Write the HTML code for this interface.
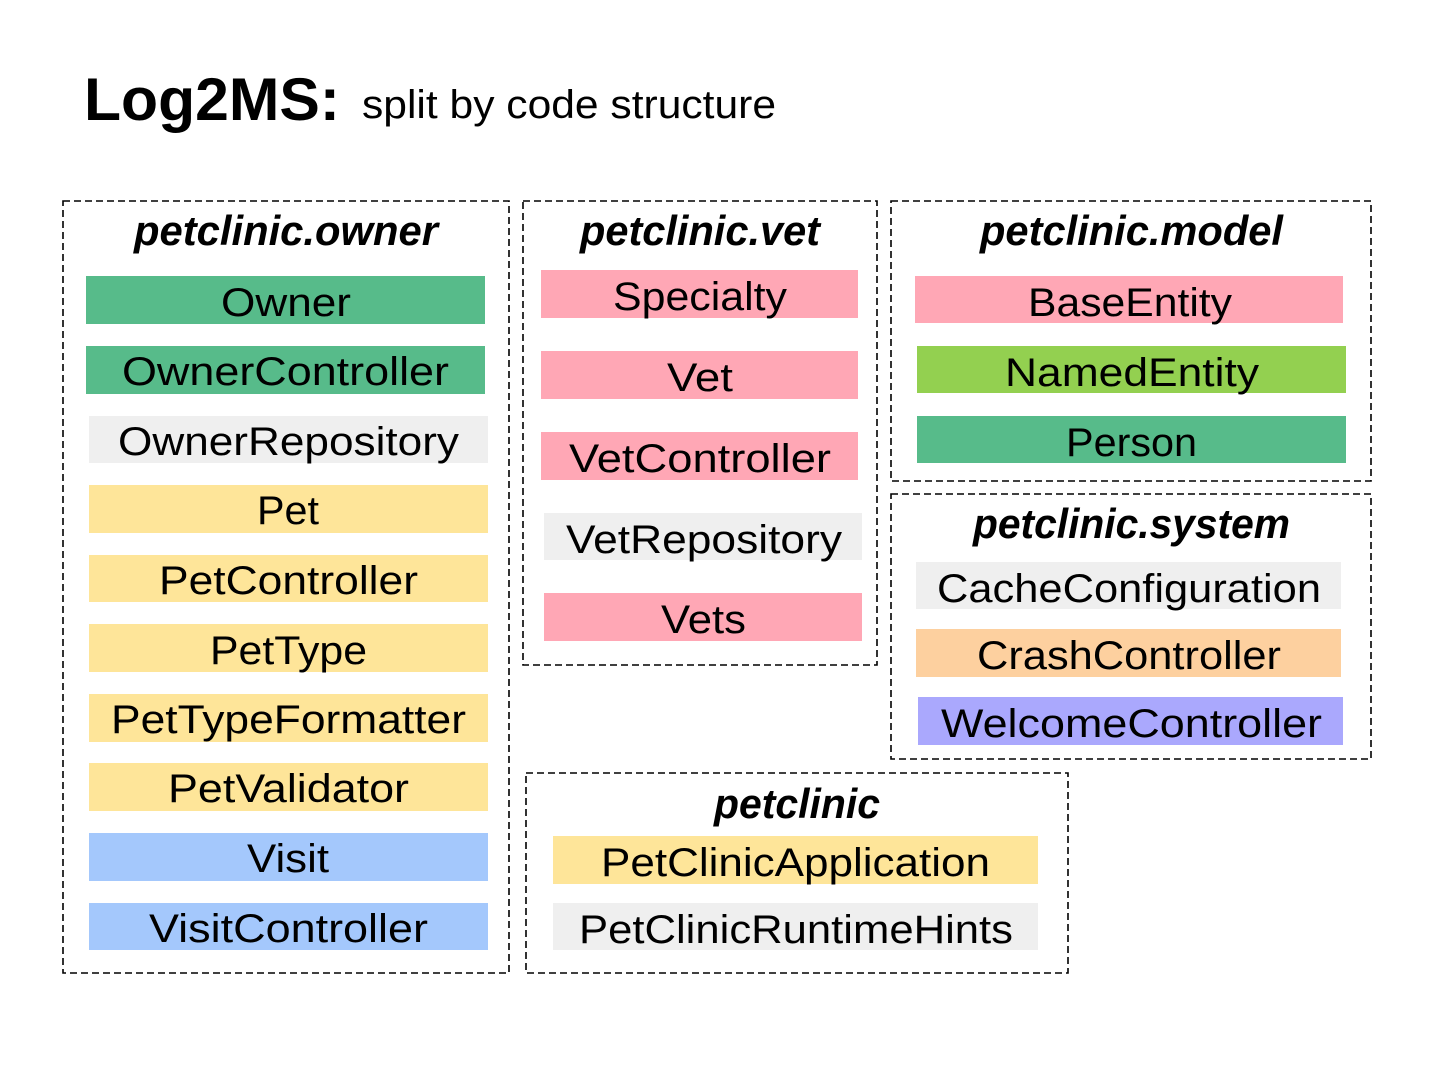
<!DOCTYPE html>
<html><head><meta charset="utf-8"><style>html,body{margin:0;padding:0;background:#fff}svg{display:block}</style></head>
<body>
<svg width="1435" height="1072" xmlns="http://www.w3.org/2000/svg" font-family="Liberation Sans, sans-serif">
<rect width="1435" height="1072" fill="#fff"/>
<text x="84" y="120" font-size="60" font-weight="bold" textLength="256" lengthAdjust="spacingAndGlyphs">Log2MS:</text>
<text x="362" y="118" font-size="40" textLength="414" lengthAdjust="spacingAndGlyphs">split by code structure</text>
<g fill="none" stroke="#000" stroke-width="1.6" stroke-dasharray="7,4">
<rect x="63" y="201" width="446" height="772"/>
<rect x="523" y="201" width="354" height="464"/>
<rect x="891" y="201" width="480" height="280"/>
<rect x="891" y="494" width="480" height="265"/>
<rect x="526" y="773" width="542" height="200"/>
</g>
<g font-size="42" font-weight="bold" font-style="italic" lengthAdjust="spacingAndGlyphs">
<text x="134" y="245" textLength="304" lengthAdjust="spacingAndGlyphs">petclinic.owner</text>
<text x="580" y="245" textLength="240" lengthAdjust="spacingAndGlyphs">petclinic.vet</text>
<text x="980" y="245" textLength="303" lengthAdjust="spacingAndGlyphs">petclinic.model</text>
<text x="973" y="538" textLength="317" lengthAdjust="spacingAndGlyphs">petclinic.system</text>
<text x="714" y="818" textLength="166" lengthAdjust="spacingAndGlyphs">petclinic</text>
</g>
<g>
<rect x="86" y="276" width="399" height="48" fill="#57bb8a"/>
<rect x="86" y="346" width="399" height="48" fill="#57bb8a"/>
<rect x="89" y="416" width="399" height="47" fill="#efefef"/>
<rect x="89" y="485" width="399" height="48" fill="#fee599"/>
<rect x="89" y="555" width="399" height="47" fill="#fee599"/>
<rect x="89" y="624" width="399" height="48" fill="#fee599"/>
<rect x="89" y="694" width="399" height="48" fill="#fee599"/>
<rect x="89" y="763" width="399" height="48" fill="#fee599"/>
<rect x="89" y="833" width="399" height="48" fill="#a4c8fc"/>
<rect x="89" y="903" width="399" height="47" fill="#a4c8fc"/>
<rect x="541" y="270" width="317" height="48" fill="#ffa7b5"/>
<rect x="541" y="351" width="317" height="48" fill="#ffa7b5"/>
<rect x="541" y="432" width="317" height="48" fill="#ffa7b5"/>
<rect x="544" y="513" width="318" height="47" fill="#efefef"/>
<rect x="544" y="593" width="318" height="48" fill="#ffa7b5"/>
<rect x="915" y="276" width="428" height="47" fill="#ffa7b5"/>
<rect x="917" y="346" width="429" height="47" fill="#93d050"/>
<rect x="917" y="416" width="429" height="47" fill="#57bb8a"/>
<rect x="916" y="562" width="425" height="47" fill="#efefef"/>
<rect x="916" y="629" width="425" height="48" fill="#fdd09f"/>
<rect x="918" y="697" width="425" height="48" fill="#aaa8fd"/>
<rect x="553" y="836" width="485" height="48" fill="#fee599"/>
<rect x="553" y="903" width="485" height="47" fill="#efefef"/>
</g>
<g font-size="40" fill="#000">
<text x="221" y="316" textLength="130" lengthAdjust="spacingAndGlyphs">Owner</text>
<text x="122" y="385" textLength="327" lengthAdjust="spacingAndGlyphs">OwnerController</text>
<text x="118" y="455" textLength="341" lengthAdjust="spacingAndGlyphs">OwnerRepository</text>
<text x="257" y="524" textLength="62" lengthAdjust="spacingAndGlyphs">Pet</text>
<text x="159" y="594" textLength="259" lengthAdjust="spacingAndGlyphs">PetController</text>
<text x="210" y="664" textLength="157" lengthAdjust="spacingAndGlyphs">PetType</text>
<text x="111" y="733" textLength="355" lengthAdjust="spacingAndGlyphs">PetTypeFormatter</text>
<text x="168" y="802" textLength="241" lengthAdjust="spacingAndGlyphs">PetValidator</text>
<text x="247" y="872" textLength="82" lengthAdjust="spacingAndGlyphs">Visit</text>
<text x="149" y="942" textLength="279" lengthAdjust="spacingAndGlyphs">VisitController</text>
<text x="613" y="310" textLength="174" lengthAdjust="spacingAndGlyphs">Specialty</text>
<text x="667" y="391" textLength="66" lengthAdjust="spacingAndGlyphs">Vet</text>
<text x="569" y="472" textLength="262" lengthAdjust="spacingAndGlyphs">VetController</text>
<text x="566" y="553" textLength="276" lengthAdjust="spacingAndGlyphs">VetRepository</text>
<text x="661" y="633" textLength="85" lengthAdjust="spacingAndGlyphs">Vets</text>
<text x="1028" y="316" textLength="204" lengthAdjust="spacingAndGlyphs">BaseEntity</text>
<text x="1005" y="386" textLength="254" lengthAdjust="spacingAndGlyphs">NamedEntity</text>
<text x="1066" y="456" textLength="131" lengthAdjust="spacingAndGlyphs">Person</text>
<text x="937" y="602" textLength="384" lengthAdjust="spacingAndGlyphs">CacheConfiguration</text>
<text x="977" y="669" textLength="304" lengthAdjust="spacingAndGlyphs">CrashController</text>
<text x="941" y="737" textLength="381" lengthAdjust="spacingAndGlyphs">WelcomeController</text>
<text x="601" y="876" textLength="389" lengthAdjust="spacingAndGlyphs">PetClinicApplication</text>
<text x="579" y="943" textLength="434" lengthAdjust="spacingAndGlyphs">PetClinicRuntimeHints</text>
</g>
</svg>
</body></html>
